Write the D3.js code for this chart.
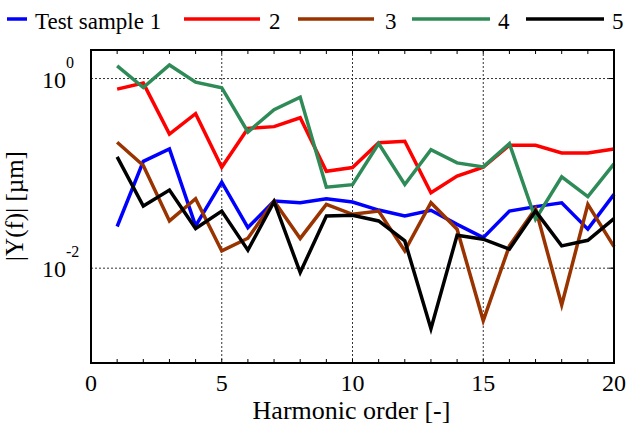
<!DOCTYPE html>
<html>
<head>
<meta charset="utf-8">
<script src="https://cdn.jsdelivr.net/npm/d3@7"></script>
<style>
  html, body { margin: 0; padding: 0; background: #fff; }
  svg { display: block; }
</style>
</head>
<body>
<svg id="chart" width="627" height="429"></svg>
<script>
// Harmonic orders
const harmonics = d3.range(1, 21);

// |Y(f)| amplitudes in µm for each test sample
const sample1 = [0.0275, 0.134, 0.181, 0.0279, 0.0809, 0.0268, 0.051, 0.049, 0.054, 0.0499,
                 0.041, 0.0355, 0.0408, 0.029, 0.021, 0.040, 0.0446, 0.049, 0.0258, 0.060];
const sample2 = [0.774, 0.895, 0.26, 0.426, 0.116, 0.298, 0.311, 0.386, 0.105, 0.115,
                 0.21, 0.218, 0.0625, 0.0935, 0.116, 0.198, 0.198, 0.164, 0.164, 0.181];
const sample3 = [0.213, 0.121, 0.0315, 0.054, 0.0152, 0.0207, 0.051, 0.0206, 0.0471, 0.037,
                 0.040, 0.0152, 0.049, 0.0258, 0.0028, 0.0172, 0.0425, 0.0041, 0.0471, 0.0169];
const sample4 = [1.36, 0.805, 1.39, 0.916, 0.80, 0.273, 0.469, 0.637, 0.0716, 0.076,
                 0.206, 0.0764, 0.178, 0.129, 0.117, 0.206, 0.0328, 0.092, 0.0568, 0.126];
const sample5 = [0.149, 0.0452, 0.0667, 0.0262, 0.040, 0.0155, 0.0503, 0.0090, 0.0355, 0.0361,
                 0.0315, 0.0194, 0.0023, 0.0223, 0.0202, 0.0159, 0.040, 0.0172, 0.0197, 0.0333];

const seriesNames = ["Test sample 1", "2", "3", "4", "5"];
const seriesColors = ["#0000ff", "#ff0000", "#993300", "#2e8b57", "#000000"];
const seriesValues = [sample1, sample2, sample3, sample4, sample5];

// Axis ticks
const xTickLabels = [0, 5, 10, 15, 20];
const yDecades = [0, -2];

const FONT = "Liberation Serif";
const svg = d3.select("#chart");
const plotL = 91, plotR = 614, plotT = 50, plotB = 363;

const x = d3.scaleLinear().domain([0, 20]).range([plotL, plotR]);
const y = d3.scaleLog().domain([1e-3, 2]).range([plotB, plotT]);

// Grid lines
const grid = svg.append("g").attr("stroke", "#333").attr("stroke-width", 1)
  .attr("stroke-dasharray", "2,2");
grid.selectAll("line.vx").data([5, 10, 15]).join("line")
  .attr("x1", d => x(d)).attr("x2", d => x(d)).attr("y1", plotT).attr("y2", plotB);
grid.selectAll("line.hy").data(yDecades).join("line")
  .attr("x1", plotL).attr("x2", plotR)
  .attr("y1", d => y(Math.pow(10, d))).attr("y2", d => y(Math.pow(10, d)));

// Minor ticks on top and bottom edges, decade ticks on the right edge
const tk = svg.append("g").attr("stroke", "#000").attr("stroke-width", 1);
const minor = d3.range(1, 20);
tk.selectAll("line.b").data(minor).join("line")
  .attr("x1", d => x(d)).attr("x2", d => x(d)).attr("y1", plotB).attr("y2", plotB - 4);
tk.selectAll("line.t").data(minor).join("line")
  .attr("x1", d => x(d)).attr("x2", d => x(d)).attr("y1", plotT).attr("y2", plotT + 4);
tk.selectAll("line.r").data(yDecades).join("line")
  .attr("x1", plotR).attr("x2", plotR - 5)
  .attr("y1", d => y(Math.pow(10, d))).attr("y2", d => y(Math.pow(10, d)));

// Data lines
const line = d3.line().x((d, i) => x(harmonics[i])).y(d => y(d));
svg.append("g").selectAll("path").data(seriesValues).join("path")
  .attr("d", d => line(d))
  .attr("fill", "none")
  .attr("stroke", (d, i) => seriesColors[i])
  .attr("stroke-width", 3.5)
  .attr("stroke-linejoin", "miter");

// Frame
svg.append("rect").attr("x", plotL).attr("y", plotT)
  .attr("width", plotR - plotL).attr("height", plotB - plotT)
  .attr("fill", "none").attr("stroke", "#000").attr("stroke-width", 2);

// X tick labels
svg.append("g").selectAll("text").data(xTickLabels).join("text")
  .attr("font-family", FONT)
  .attr("x", d => x(d)).attr("y", 391)
  .attr("text-anchor", "middle").attr("font-size", 24)
  .text(d => d);

// Y tick labels as 10^n
const yl = svg.append("g").selectAll("text").data(yDecades).join("text")
  .attr("font-family", FONT)
  .attr("x", 42).attr("y", d => y(Math.pow(10, d)) + 9)
  .attr("text-anchor", "start").attr("font-size", 24);
yl.append("tspan").text("10");
yl.append("tspan").attr("dy", -20).attr("font-size", 16).text(d => d);

// Axis titles
svg.append("text").attr("font-family", FONT)
  .attr("x", x(10) - 1).attr("y", 419)
  .attr("text-anchor", "middle").attr("font-size", 26).text("Harmonic order [-]");
svg.append("text").attr("font-family", FONT)
  .attr("transform", "translate(23,206) rotate(-90)")
  .attr("text-anchor", "middle").attr("font-size", 25).text("|Y(f)| [µm]");

// Legend
const legendItems = [
  { x1: 7, x2: 27, tx: 35 },
  { x1: 184, x2: 260, tx: 269 },
  { x1: 298, x2: 374, tx: 385 },
  { x1: 412, x2: 490, tx: 498 },
  { x1: 526, x2: 604, tx: 612 }
];
const lg = svg.append("g").selectAll("g").data(legendItems).join("g");
lg.append("line").attr("x1", d => d.x1).attr("x2", d => d.x2)
  .attr("y1", 19).attr("y2", 19)
  .attr("stroke", (d, i) => seriesColors[i]).attr("stroke-width", 3.5);
lg.append("text").attr("font-family", FONT)
  .attr("x", d => d.tx).attr("y", 29)
  .attr("font-size", 23).text((d, i) => seriesNames[i]);
</script>
</body>
</html>
